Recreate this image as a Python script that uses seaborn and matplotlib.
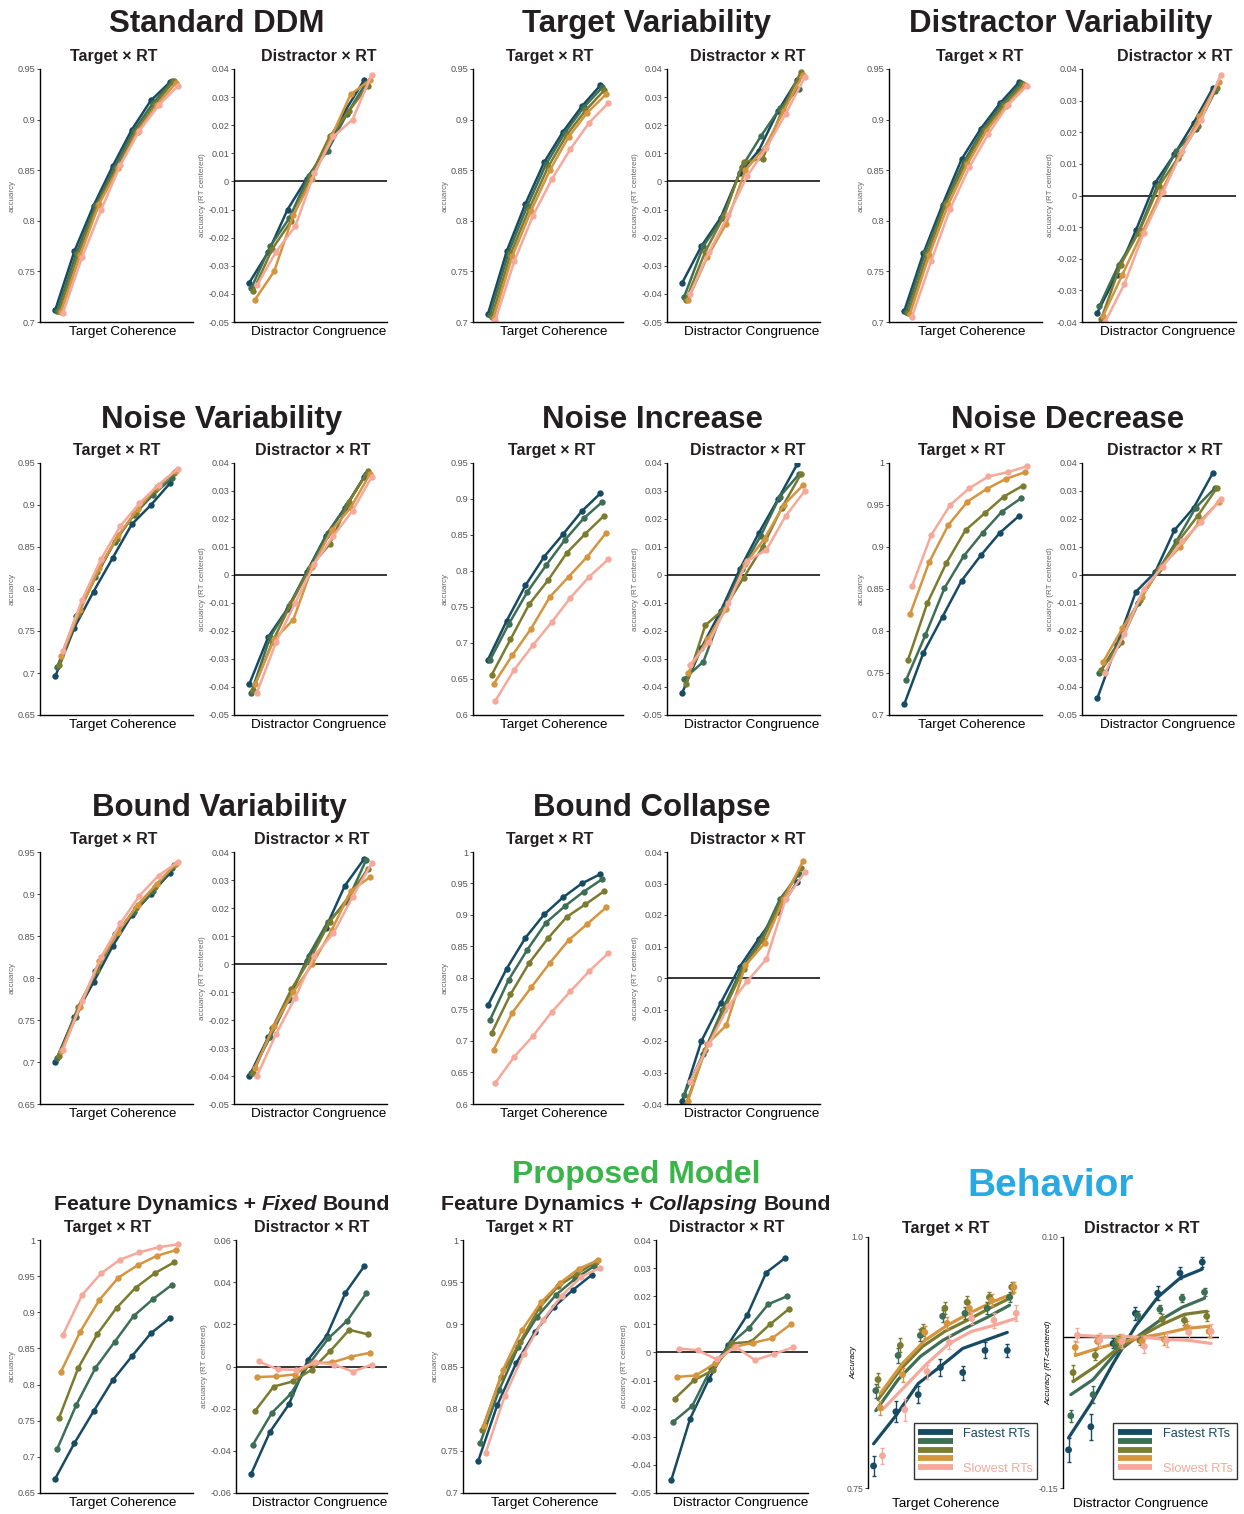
import numpy as np
import pandas as pd
import matplotlib
matplotlib.use("Agg")
import matplotlib.pyplot as plt
from matplotlib.lines import Line2D
import seaborn as sns

# ---------------------------------------------------------------- data
RT_BINS = ["Fastest RTs", "RT bin 2", "RT bin 3", "RT bin 4", "Slowest RTs"]
PALETTE = ["#174a63", "#3e6e55", "#7b7c30", "#d5953e", "#f5a99b"]
TARGET_LEVELS = [1, 2, 3, 4, 5, 6, 7]
DISTRACTOR_LEVELS = [1, 2, 3, 4, 5, 6, 7]

STD_DDM_TARGET = [
    [0.712, 0.770, 0.815, 0.854, 0.890, 0.919, 0.937],
    [0.711, 0.768, 0.815, 0.853, 0.889, 0.916, 0.938],
    [0.711, 0.767, 0.816, 0.852, 0.888, 0.915, 0.938],
    [0.710, 0.766, 0.817, 0.852, 0.888, 0.914, 0.936],
    [0.709, 0.764, 0.811, 0.855, 0.889, 0.914, 0.933]]
STD_DDM_DISTRACTOR = [
    [-0.036, -0.025, -0.010, 0.001, 0.011, 0.025, 0.036],
    [-0.038, -0.023, -0.013, 0.002, 0.011, 0.024, 0.035],
    [-0.039, -0.024, -0.014, 0.002, 0.016, 0.025, 0.034],
    [-0.042, -0.032, -0.012, 0.001, 0.016, 0.031, 0.036],
    [-0.037, -0.025, -0.016, 0.003, 0.016, 0.022, 0.038]]

TARGET_VAR_TARGET = [
    [0.708, 0.770, 0.817, 0.858, 0.888, 0.913, 0.934],
    [0.707, 0.769, 0.815, 0.856, 0.887, 0.912, 0.932],
    [0.705, 0.767, 0.812, 0.853, 0.885, 0.909, 0.929],
    [0.704, 0.765, 0.810, 0.850, 0.883, 0.907, 0.925],
    [0.702, 0.760, 0.805, 0.841, 0.871, 0.897, 0.916]]
TARGET_VAR_DISTRACTOR = [
    [-0.036, -0.023, -0.013, 0.003, 0.011, 0.025, 0.036],
    [-0.041, -0.023, -0.013, 0.005, 0.016, 0.026, 0.033],
    [-0.042, -0.025, -0.012, 0.007, 0.008, 0.025, 0.039],
    [-0.042, -0.027, -0.015, 0.004, 0.012, 0.025, 0.038],
    [-0.040, -0.025, -0.012, 0.002, 0.012, 0.024, 0.037]]

DIST_VAR_TARGET = [
    [0.711, 0.768, 0.816, 0.861, 0.891, 0.916, 0.937],
    [0.710, 0.769, 0.816, 0.858, 0.890, 0.915, 0.936],
    [0.709, 0.767, 0.818, 0.857, 0.890, 0.914, 0.935],
    [0.708, 0.766, 0.816, 0.856, 0.889, 0.913, 0.934],
    [0.705, 0.760, 0.812, 0.853, 0.886, 0.914, 0.933]]
DIST_VAR_DISTRACTOR = [
    [-0.037, -0.025, -0.011, 0.004, 0.013, 0.023, 0.034],
    [-0.035, -0.022, -0.012, 0.003, 0.014, 0.021, 0.033],
    [-0.039, -0.022, -0.011, 0.003, 0.012, 0.022, 0.034],
    [-0.038, -0.025, -0.012, 0.001, 0.013, 0.025, 0.036],
    [-0.040, -0.028, -0.012, 0.001, 0.014, 0.024, 0.038]]

NOISE_VAR_TARGET = [
    [0.696, 0.754, 0.797, 0.837, 0.877, 0.900, 0.926],
    [0.707, 0.768, 0.814, 0.856, 0.888, 0.912, 0.932],
    [0.709, 0.770, 0.820, 0.860, 0.891, 0.918, 0.938],
    [0.720, 0.775, 0.825, 0.864, 0.895, 0.922, 0.941],
    [0.726, 0.787, 0.836, 0.875, 0.902, 0.924, 0.943]]
NOISE_VAR_DISTRACTOR = [
    [-0.039, -0.022, -0.012, 0.001, 0.014, 0.024, 0.035],
    [-0.042, -0.022, -0.011, 0.002, 0.015, 0.025, 0.036],
    [-0.041, -0.024, -0.010, 0.003, 0.011, 0.026, 0.037],
    [-0.039, -0.023, -0.016, 0.003, 0.016, 0.024, 0.036],
    [-0.042, -0.024, -0.010, 0.004, 0.014, 0.023, 0.035]]

NOISE_INC_TARGET = [
    [0.677, 0.731, 0.780, 0.820, 0.851, 0.883, 0.908],
    [0.676, 0.726, 0.771, 0.808, 0.843, 0.873, 0.896],
    [0.656, 0.705, 0.754, 0.787, 0.825, 0.852, 0.877],
    [0.643, 0.683, 0.720, 0.764, 0.792, 0.820, 0.853],
    [0.620, 0.663, 0.697, 0.729, 0.763, 0.792, 0.816]]
NOISE_INC_DISTRACTOR = [
    [-0.042, -0.026, -0.013, 0.002, 0.015, 0.027, 0.0395],
    [-0.037, -0.031, -0.013, 0.002, 0.014, 0.028, 0.036],
    [-0.039, -0.018, -0.012, -0.001, 0.010, 0.024, 0.036],
    [-0.035, -0.023, -0.012, 0.004, 0.013, 0.025, 0.032],
    [-0.032, -0.024, -0.010, 0.005, 0.009, 0.021, 0.030]]

NOISE_DEC_TARGET = [
    [0.713, 0.774, 0.817, 0.860, 0.890, 0.917, 0.937],
    [0.742, 0.795, 0.851, 0.889, 0.917, 0.942, 0.958],
    [0.766, 0.833, 0.881, 0.920, 0.940, 0.960, 0.973],
    [0.820, 0.882, 0.926, 0.954, 0.969, 0.981, 0.989],
    [0.853, 0.914, 0.950, 0.970, 0.984, 0.989, 0.996]]
NOISE_DEC_DISTRACTOR = [
    [-0.044, -0.025, -0.006, 0.001, 0.016, 0.024, 0.0365],
    [-0.035, -0.024, -0.010, 0.001, 0.012, 0.024, 0.031],
    [-0.034, -0.024, -0.009, 0.002, 0.012, 0.021, 0.031],
    [-0.031, -0.019, -0.008, 0.003, 0.010, 0.019, 0.026],
    [-0.035, -0.021, -0.005, 0.003, 0.012, 0.019, 0.027]]

BOUND_VAR_TARGET = [
    [0.700, 0.754, 0.795, 0.838, 0.875, 0.900, 0.925],
    [0.705, 0.754, 0.808, 0.852, 0.878, 0.903, 0.931],
    [0.707, 0.766, 0.810, 0.853, 0.883, 0.908, 0.934],
    [0.713, 0.765, 0.820, 0.855, 0.887, 0.912, 0.936],
    [0.714, 0.773, 0.825, 0.865, 0.898, 0.922, 0.938]]
BOUND_VAR_DISTRACTOR = [
    [-0.040, -0.026, -0.013, 0.001, 0.013, 0.028, 0.0375],
    [-0.039, -0.026, -0.012, 0.003, 0.015, 0.022, 0.037],
    [-0.039, -0.023, -0.009, 0.002, 0.015, 0.024, 0.034],
    [-0.037, -0.022, -0.010, 0.000, 0.012, 0.026, 0.031],
    [-0.040, -0.025, -0.012, 0.003, 0.011, 0.024, 0.036]]

BOUND_COLLAPSE_TARGET = [
    [0.757, 0.815, 0.864, 0.901, 0.928, 0.950, 0.965],
    [0.733, 0.797, 0.845, 0.888, 0.914, 0.937, 0.957],
    [0.713, 0.774, 0.824, 0.863, 0.897, 0.917, 0.938],
    [0.686, 0.745, 0.785, 0.824, 0.860, 0.886, 0.912],
    [0.634, 0.675, 0.708, 0.746, 0.779, 0.811, 0.839]]
BOUND_COLLAPSE_DISTRACTOR = [
    [-0.039, -0.020, -0.008, 0.0035, 0.0125, 0.021, 0.0305],
    [-0.037, -0.024, -0.010, 0.003, 0.012, 0.025, 0.033],
    [-0.040, -0.023, -0.010, 0.003, 0.012, 0.025, 0.035],
    [-0.039, -0.021, -0.015, 0.004, 0.011, 0.025, 0.037],
    [-0.033, -0.021, -0.009, -0.001, 0.006, 0.025, 0.0335]]

FD_FIXED_TARGET = [
    [0.670, 0.719, 0.763, 0.806, 0.839, 0.871, 0.892],
    [0.711, 0.772, 0.823, 0.859, 0.895, 0.918, 0.938],
    [0.754, 0.823, 0.870, 0.906, 0.934, 0.954, 0.969],
    [0.818, 0.873, 0.917, 0.948, 0.965, 0.978, 0.986],
    [0.869, 0.924, 0.954, 0.973, 0.983, 0.990, 0.994]]
FD_FIXED_DISTRACTOR = [
    [-0.051, -0.031, -0.018, 0.003, 0.0145, 0.035, 0.0477],
    [-0.037, -0.022, -0.013, 0.0016, 0.0134, 0.0218, 0.0347],
    [-0.0212, -0.0095, -0.0071, -0.0016, 0.0074, 0.0174, 0.0152],
    [-0.005, -0.0047, -0.0038, 0.0016, 0.0019, 0.0047, 0.0065],
    [0.0024, -0.0013, -0.0016, 0.002, 0.0008, -0.0024, 0.0009]]

PROPOSED_TARGET = [
    [0.738, 0.804, 0.854, 0.891, 0.921, 0.941, 0.959],
    [0.759, 0.822, 0.873, 0.909, 0.935, 0.954, 0.969],
    [0.775, 0.838, 0.879, 0.919, 0.945, 0.960, 0.974],
    [0.780, 0.846, 0.893, 0.926, 0.949, 0.966, 0.976],
    [0.748, 0.815, 0.865, 0.905, 0.934, 0.956, 0.967]]
PROPOSED_DISTRACTOR = [
    [-0.0455, -0.0235, -0.0093, 0.0028, 0.0133, 0.0284, 0.0336],
    [-0.0247, -0.0191, -0.0057, 0.0030, 0.0088, 0.0171, 0.0200],
    [-0.0164, -0.0099, -0.0063, 0.0032, 0.0038, 0.0100, 0.0155],
    [-0.0087, -0.0082, -0.0039, 0.0020, 0.0034, 0.0050, 0.0100],
    [0.0014, 0.0008, -0.0025, 0.0020, -0.0027, -0.0006, 0.0018]]

BEH_TARGET_MEAN = [
    [0.772, 0.826, 0.843, 0.870, 0.865, 0.887, 0.887],
    [0.847, 0.882, 0.902, 0.921, 0.924, 0.929, 0.940],
    [0.858, 0.892, 0.907, 0.929, 0.935, 0.940, 0.950],
    [0.830, 0.863, 0.905, 0.914, 0.929, 0.937, 0.950],
    [0.782, 0.828, 0.866, 0.895, 0.919, 0.917, 0.924]]
BEH_TARGET_SEM = [
    [0.010, 0.0105, 0.0086, 0.008, 0.007, 0.008, 0.0066],
    [0.007, 0.007, 0.006, 0.006, 0.006, 0.006, 0.005],
    [0.007, 0.007, 0.006, 0.006, 0.006, 0.005, 0.005],
    [0.007, 0.007, 0.006, 0.006, 0.006, 0.006, 0.005],
    [0.008, 0.011, 0.007, 0.007, 0.006, 0.0075, 0.008]]
BEH_TARGET_FIT = [
    [0.794, 0.822, 0.854, 0.871, 0.889, 0.897, 0.905],
    [0.827, 0.858, 0.881, 0.897, 0.909, 0.920, 0.932],
    [0.838, 0.868, 0.891, 0.906, 0.917, 0.929, 0.940],
    [0.844, 0.874, 0.897, 0.912, 0.924, 0.935, 0.944],
    [0.828, 0.851, 0.874, 0.894, 0.906, 0.912, 0.919]]

BEH_DIST_MEAN = [
    [-0.112, -0.089, -0.006, 0.024, 0.044, 0.064, 0.075],
    [-0.078, -0.057, -0.007, 0.022, 0.028, 0.039, 0.045],
    [-0.035, -0.018, -0.004, -0.003, 0.018, 0.017, 0.021],
    [-0.010, -0.004, -0.003, -0.004, -0.002, 0.010, 0.006],
    [0.002, -0.003, -0.004, -0.009, -0.003, 0.005, 0.006]]
BEH_DIST_SEM = [
    [0.012, 0.013, 0.005, 0.0066, 0.007, 0.006, 0.005],
    [0.006, 0.0086, 0.004, 0.004, 0.004, 0.004, 0.004],
    [0.0075, 0.005, 0.005, 0.005, 0.005, 0.005, 0.005],
    [0.006, 0.006, 0.006, 0.006, 0.006, 0.006, 0.006],
    [0.007, 0.007, 0.007, 0.007, 0.007, 0.007, 0.007]]
BEH_DIST_FIT = [
    [-0.100, -0.066, -0.026, 0.011, 0.040, 0.059, 0.068],
    [-0.057, -0.042, -0.016, 0.001, 0.017, 0.030, 0.039],
    [-0.044, -0.029, -0.011, 0.001, 0.013, 0.023, 0.026],
    [-0.018, -0.011, -0.005, 0.000, 0.004, 0.009, 0.011],
    [0.002, 0.001, 0.001, 0.000, -0.002, -0.003, -0.006]]

# ---------------------------------------------------------------- style
sns.set_style("ticks")
plt.rcParams["font.family"] = ["Liberation Sans", "DejaVu Sans"]
TXT = "#231f20"
TICK_GRAY = "#555555"
W, H = 1244, 1514
fig = plt.figure(figsize=(W / 100, H / 100), dpi=100)


def add_ax(l, t, r, b):
    return fig.add_axes([l / W, 1 - b / H, (r - l) / W, (b - t) / H])


def fmt(v):
    return f"{(round(v, 4) + 0.0):g}"


def long_df(values, levels):
    rows = []
    for rt, row in zip(RT_BINS, values):
        for lvl, v in zip(levels, row):
            rows.append((lvl, rt, v))
    return pd.DataFrame(rows, columns=["level", "rt", "value"])


def style_axis(ax, ylim, step, ylabel, xlabel, xlabel_x, title, title_cx, ax_l, ax_r):
    ticks = np.round(np.arange(ylim[0], ylim[1] + step / 2, step), 4)
    ax.set_ylim(*ylim)
    ax.set_yticks(ticks)
    ax.set_yticklabels([fmt(t) for t in ticks])
    ax.set_xticks([])
    ax.tick_params(axis="y", length=2, width=0.6, labelsize=6.6,
                   labelcolor=TICK_GRAY, pad=1.5)
    ax.set_ylabel(ylabel, fontsize=5.8, color="#666666", labelpad=1.5)
    ax.set_xlabel(xlabel, fontsize=9.7, color="black", labelpad=3, x=xlabel_x)
    for s in ["left", "bottom"]:
        ax.spines[s].set_linewidth(1.0)
        ax.spines[s].set_color("black")
    sns.despine(ax=ax)
    ax.set_title(title, fontsize=11.5, fontweight="bold", color=TXT, pad=6,
                 x=(title_cx - ax_l) / (ax_r - ax_l))


def model_panel(ax, values, levels, ylim, step, kind, title_cx, ax_l, ax_r):
    df = long_df(values, levels)
    if kind == "distractor":
        ax.axhline(0, color="black", lw=1.1, zorder=1)
    sns.pointplot(data=df, x="level", y="value", hue="rt", order=levels,
                  hue_order=RT_BINS, palette=PALETTE, dodge=0.4,
                  errorbar=None, markers="o", markersize=4.6, linewidth=1.8,
                  markeredgewidth=0, legend=False, ax=ax)
    ax.set_xlim(-1, 7)
    if kind == "target":
        style_axis(ax, ylim, step, "accuarcy", "Target Coherence", 0.54,
                   "Target × RT", title_cx, ax_l, ax_r)
    else:
        style_axis(ax, ylim, step, "accuarcy (RT centered)",
                   "Distractor Congruence", 0.555, "Distractor × RT",
                   title_cx, ax_l, ax_r)


def behavior_panel(ax, means, sems, fits, levels, ylim, ylabel, xlabel, title,
                   title_cx, ax_l, ax_r, zero_line):
    offsets = np.linspace(-0.2, 0.2, len(RT_BINS))
    rows = []
    for j, rt in enumerate(RT_BINS):
        for i, lvl in enumerate(levels):
            rows.append(dict(x=i + offsets[j], rt=rt, mean=means[j][i],
                             sem=sems[j][i], fit=fits[j][i]))
    df = pd.DataFrame(rows)
    if zero_line:
        ax.axhline(0, color="black", lw=1.0, zorder=1)
    sns.lineplot(data=df, x="x", y="fit", hue="rt", hue_order=RT_BINS,
                 palette=PALETTE, linewidth=2.3, legend=False, ax=ax)
    for j, rt in enumerate(RT_BINS):
        sub = df[df.rt == rt]
        ax.errorbar(sub.x, sub["mean"], yerr=sub["sem"], fmt="none",
                    ecolor=PALETTE[j], elinewidth=1.0, capsize=1.6,
                    capthick=1.0, zorder=3)
    sns.scatterplot(data=df, x="x", y="mean", hue="rt", hue_order=RT_BINS,
                    palette=PALETTE, s=24, edgecolor="none", legend=False,
                    ax=ax, zorder=4)
    ax.set_xlim(-0.45, 6.55)
    ax.set_ylim(*ylim)
    ax.set_yticks(list(ylim))
    if ylim[1] == 1.0:
        ax.set_yticklabels(["0.75", "1.0"])
    else:
        ax.set_yticklabels(["-0.15", "0.10"])
    ax.set_xticks([])
    ax.tick_params(axis="y", length=2, width=0.6, labelsize=6.2,
                   labelcolor=TICK_GRAY, pad=1.5)
    ax.set_ylabel(ylabel, fontsize=5.8, fontstyle="italic", color="black")
    ax.yaxis.set_label_coords(-0.068, 0.5)
    ax.set_xlabel(xlabel, fontsize=9.7, color="black", labelpad=7)
    sns.despine(ax=ax, bottom=True)
    ax.spines["left"].set_linewidth(1.0)
    ax.spines["left"].set_color("black")
    ax.set_title(title, fontsize=11.5, fontweight="bold", color=TXT, pad=3,
                 x=(title_cx - ax_l) / (ax_r - ax_l))
    handles = [Line2D([0], [0], color=c, lw=4.2, solid_capstyle="butt")
               for c in PALETTE]
    labels = ["Fastest RTs", "", "", "", "Slowest RTs"]
    anchor_x = 1.085 if ylim[1] == 1.0 else 1.115
    leg = ax.legend(handles, labels, loc="lower right",
                    bbox_to_anchor=(anchor_x, 0.035), frameon=True,
                    fancybox=False, edgecolor="black", fontsize=9.2,
                    handlelength=2.7, labelspacing=-0.25, borderpad=0.35,
                    handletextpad=0.8, borderaxespad=0)
    leg.get_frame().set_linewidth(1.0)
    for txt, c in zip(leg.get_texts(), PALETTE):
        txt.set_color(c)


# ---------------------------------------------------------------- layout
PANELS = [
    ("Standard DDM", STD_DDM_TARGET, (0.7, 0.95), 0.05, STD_DDM_DISTRACTOR, (-0.05, 0.04), 0.01,
     69, 322, 40, 193, 234, 387, 114, 319),
    ("Target Variability", TARGET_VAR_TARGET, (0.7, 0.95), 0.05, TARGET_VAR_DISTRACTOR, (-0.05, 0.04), 0.01,
     69, 322, 473, 623, 667, 820, 550, 748),
    ("Distractor Variability", DIST_VAR_TARGET, (0.7, 0.95), 0.05, DIST_VAR_DISTRACTOR, (-0.04, 0.04), 0.01,
     69, 322, 889, 1042, 1082, 1236, 980, 1175),
    ("Noise Variability", NOISE_VAR_TARGET, (0.65, 0.95), 0.05, NOISE_VAR_DISTRACTOR, (-0.05, 0.04), 0.01,
     463, 715, 40, 193, 234, 387, 117, 313),
    ("Noise Increase", NOISE_INC_TARGET, (0.6, 0.95), 0.05, NOISE_INC_DISTRACTOR, (-0.05, 0.04), 0.01,
     463, 715, 473, 623, 667, 820, 552, 748),
    ("Noise Decrease", NOISE_DEC_TARGET, (0.7, 1.0), 0.05, NOISE_DEC_DISTRACTOR, (-0.05, 0.04), 0.01,
     463, 715, 889, 1042, 1082, 1236, 962, 1165),
    ("Bound Variability", BOUND_VAR_TARGET, (0.65, 0.95), 0.05, BOUND_VAR_DISTRACTOR, (-0.05, 0.04), 0.01,
     852, 1104, 40, 193, 234, 387, 114, 312),
    ("Bound Collapse", BOUND_COLLAPSE_TARGET, (0.6, 1.0), 0.05, BOUND_COLLAPSE_DISTRACTOR, (-0.04, 0.04), 0.01,
     852, 1104, 473, 623, 667, 820, 550, 748),
    (None, FD_FIXED_TARGET, (0.65, 1.0), 0.05, FD_FIXED_DISTRACTOR, (-0.06, 0.06), 0.02,
     1240, 1493, 40, 193, 236, 387, 108, 312),
    (None, PROPOSED_TARGET, (0.7, 1.0), 0.05, PROPOSED_DISTRACTOR, (-0.05, 0.04), 0.01,
     1240, 1493, 463, 615, 656, 808, 530, 727),
]

GROUP_TITLES = [
    ("Standard DDM", 217, 32, TXT, 22.5),
    ("Target Variability", 647, 32, TXT, 22.5),
    ("Distractor Variability", 1061, 32, TXT, 22.5),
    ("Noise Variability", 222, 428, TXT, 22.5),
    ("Noise Increase", 653, 428, TXT, 22.5),
    ("Noise Decrease", 1068, 428, TXT, 22.5),
    ("Bound Variability", 219, 816, TXT, 22.5),
    ("Bound Collapse", 652, 816, TXT, 22.5),
    ("Proposed Model", 636, 1183, "#3bb54a", 23),
    ("Behavior", 1051, 1196, "#29a9e1", 28),
]

for (grp, tdata, tylim, tstep, ddata, dylim, dstep, top, bot,
     tl, tr, dl, dr, tcx, dcx) in PANELS:
    axt = add_ax(tl, top, tr, bot)
    model_panel(axt, tdata, TARGET_LEVELS, tylim, tstep, "target", tcx, tl, tr)
    axd = add_ax(dl, top, dr, bot)
    model_panel(axd, ddata, DISTRACTOR_LEVELS, dylim, dstep, "distractor", dcx, dl, dr)

axbt = add_ax(868, 1237, 1024, 1488)
behavior_panel(axbt, BEH_TARGET_MEAN, BEH_TARGET_SEM, BEH_TARGET_FIT, TARGET_LEVELS,
               (0.75, 1.0), "Accuracy", "Target Coherence", "Target × RT",
               946, 868, 1024, False)
axbd = add_ax(1063, 1237, 1219, 1488)
behavior_panel(axbd, BEH_DIST_MEAN, BEH_DIST_SEM, BEH_DIST_FIT, DISTRACTOR_LEVELS,
               (-0.15, 0.10), "Accuracy (RT-centered)", "Distractor Congruence",
               "Distractor × RT", 1142, 1063, 1219, True)

for text, cx, by, col, size in GROUP_TITLES:
    fig.text(cx / W, 1 - by / H, text, ha="center", va="baseline",
             fontsize=size, fontweight="bold", color=col)


def mixed_title(parts, cx, by, size):
    renderer = fig.canvas.get_renderer()
    probe1 = fig.text(0, 0, "a a", fontsize=size, fontweight="bold")
    probe2 = fig.text(0, 0, "aa", fontsize=size, fontweight="bold")
    space = (probe1.get_window_extent(renderer).width
             - probe2.get_window_extent(renderer).width)
    probe1.remove()
    probe2.remove()
    texts = [fig.text(0, 1 - by / H, s, fontsize=size, fontweight="bold",
                      fontstyle=st, color=TXT, ha="left", va="baseline")
             for s, st in parts]
    widths = [t.get_window_extent(renderer).width for t in texts]
    total = sum(widths) + space * (len(parts) - 1)
    x = cx - total / 2
    for t, w in zip(texts, widths):
        t.set_x(x / W)
        x += w + space


mixed_title([("Feature Dynamics +", "normal"), ("Fixed", "italic"), ("Bound", "normal")],
            222, 1210, 15.3)
mixed_title([("Feature Dynamics +", "normal"), ("Collapsing", "italic"), ("Bound", "normal")],
            636, 1210, 15.3)

fig.savefig("out.png", dpi=100)
